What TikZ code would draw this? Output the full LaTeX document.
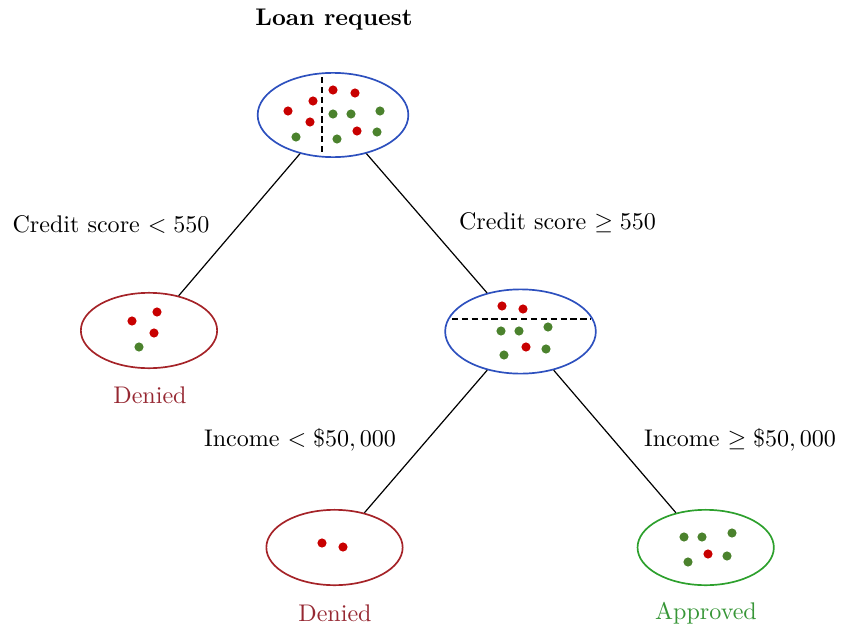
\documentclass[tikz,border=0pt]{standalone}
\usepackage{amsmath}
\usepackage{amssymb}
\usepackage{tikz}
\usetikzlibrary{shapes.geometric}
\definecolor{niceblue}{RGB}{45, 80, 190}
\definecolor{nicered}{RGB}{165, 35, 40}
\definecolor{nicegreen}{RGB}{45, 160, 45}
\definecolor{dotred}{RGB}{200, 0, 0}
\definecolor{dotgreen}{RGB}{75, 130, 45}
\definecolor{textred}{RGB}{150, 40, 50}
\definecolor{textgreen}{RGB}{55, 150, 55}
\tikzset{
	bigset/.style = {ellipse, draw, line width = 0.7pt, inner sep = 0pt, minimum width = 2.2cm, minimum height = 1.23cm},
	leafset/.style = {ellipse, draw, line width = 0.7pt, inner sep = 0pt, minimum width = 1.99cm, minimum height = 1.1cm},
	rdot/.style = {circle, fill = dotred, inner sep = 0pt, minimum size = 3.8pt},
	gdot/.style = {circle, fill = dotgreen, inner sep = 0pt, minimum size = 3.8pt},
	splitline/.style = {thick, dash pattern = on 2.6pt off 1.5pt}
}

\begin{document}
\begin{tikzpicture}[x = 1.46cm, y = -1.46cm]
			\useasboundingbox (0,0) rectangle (8.42,6.27);
			\node (root) at (3.33,1.15) [bigset, niceblue] {};
			\node (right) at (5.205,3.315) [bigset, niceblue] {};
			\node (left) at (1.49,3.305) [leafset, nicered] {};
			\node (low) at (3.345,5.475) [leafset, nicered] {};
			\node (high) at (7.057,5.475) [leafset, nicegreen] {};
			% dots in each set
			\foreach \p in {(2.88,1.11),(3.13,1.01),(3.10,1.22),(3.33,0.90),(3.55,0.93),(3.57,1.31)}
				\node[rdot] at \p {};
			\foreach \p in {(2.96,1.37),(3.33,1.14),(3.51,1.14),(3.80,1.11),(3.37,1.39),(3.77,1.32)}
				\node[gdot] at \p {};
			\foreach \p in {(5.02,3.06),(5.23,3.09),(5.26,3.47),(1.32,3.21),(1.57,3.12),(1.54,3.33),(3.22,5.43),(3.43,5.47),(7.08,5.54)}
				\node[rdot] at \p {};
			\foreach \p in {(5.01,3.31),(5.19,3.31),(5.48,3.27),(5.46,3.49),(5.04,3.55),(1.39,3.47),(6.84,5.37),(7.02,5.37),(7.32,5.33),(7.27,5.56),(6.88,5.62)}
				\node[gdot] at \p {};
			\draw[splitline] (3.22,0.77) -- (3.22,1.52);
			\draw[splitline] (4.52,3.19) -- (5.91,3.19);
			\draw[line width = 0.5pt] (root) edge (left);
			\draw[line width = 0.5pt] (root) edge (right);
			\draw[line width = 0.5pt] (right) edge (low);
			\draw[line width = 0.5pt] (right) edge (high);
			% labels
			\node (title) at (3.34,0.20) {\textbf{Loan request}};
			\node (cleft) at (1.11,2.24) {Credit score $< 550$};
			\node (cright) at (5.575,2.23) {Credit score $\geq 550$};
			\node (ileft) at (3.00,4.40) {Income $< \$50,000$};
			\node (iright) at (7.40,4.40) {Income $\geq \$50,000$};
			\node (d1) at (1.50,3.95) [textred] {Denied};
			\node (d2) at (3.35,6.13) [textred] {Denied};
			\node (ok) at (7.06,6.13) [textgreen] {Approved};
			\end{tikzpicture}
\end{document}
